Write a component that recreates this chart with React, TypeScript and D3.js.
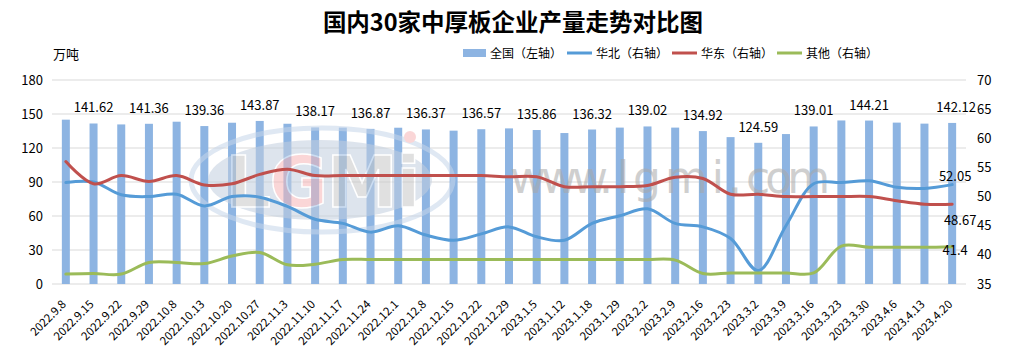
import * as d3 from "d3";

const categories = [
  "2022.9.8", "2022.9.15", "2022.9.22", "2022.9.29", "2022.10.8", "2022.10.13", "2022.10.20",
  "2022.10.27", "2022.11.3", "2022.11.10", "2022.11.17", "2022.11.24", "2022.12.1", "2022.12.8",
  "2022.12.15", "2022.12.22", "2022.12.29", "2023.1.5", "2023.1.12", "2023.1.18", "2023.1.29",
  "2023.2.2", "2023.2.9", "2023.2.16", "2023.2.23", "2023.3.2", "2023.3.9", "2023.3.16",
  "2023.3.23", "2023.3.30", "2023.4.6", "2023.4.13", "2023.4.20",
];

// 全国（左轴）
const national = [
  145.0, 141.62, 140.8, 141.36, 143.2, 139.36, 142.3, 143.87, 141.4, 138.17, 138.0, 136.87,
  137.9, 136.37, 135.3, 136.57, 137.3, 135.86, 133.2, 136.32, 138.0, 139.02, 138.0, 134.92,
  129.6, 124.59, 132.3, 139.01, 144.3, 144.21, 142.4, 141.5, 142.12,
];

// 华北（右轴）
const north = [
  52.4, 52.5, 50.3, 50.0, 50.4, 48.4, 50.0, 49.9, 48.3, 46.1, 45.4, 43.9, 45.0, 43.4, 42.5,
  43.6, 44.8, 43.1, 42.5, 45.4, 46.7, 47.9, 45.4, 44.8, 42.8, 37.3, 45.0, 52.2, 52.4, 52.7,
  51.6, 51.4, 52.05,
];

// 华东（右轴）
const east = [
  56.0, 52.2, 53.6, 52.6, 53.6, 52.0, 52.2, 53.8, 54.7, 53.6, 53.6, 53.6, 53.6, 53.6, 53.6,
  53.6, 53.4, 53.4, 51.7, 51.7, 51.7, 51.9, 53.3, 53.1, 50.4, 50.4, 50.0, 50.0, 50.0, 50.0,
  49.3, 48.7, 48.67,
];

// 其他（右轴）
const others = [
  36.7, 36.8, 36.7, 38.7, 38.7, 38.5, 39.8, 40.4, 38.3, 38.4, 39.2, 39.2, 39.2, 39.2, 39.2,
  39.2, 39.2, 39.2, 39.2, 39.2, 39.2, 39.2, 39.1, 36.8, 36.9, 36.9, 36.9, 36.9, 41.5, 41.3,
  41.3, 41.3, 41.4,
];

const leftTicks = [0, 30, 60, 90, 120, 150, 180];
const rightTicks = [35, 40, 45, 50, 55, 60, 65, 70];

const W = 1026, H = 362;
const plotL = 52, plotR = 966, plotT = 80, plotB = 284;

const C_BAR = "#8db4e2";
const C_NORTH = "#559bd7";
const C_EAST = "#c0504d";
const C_OTHER = "#9bbb59";
const FONT = "'Noto Sans CJK SC', 'Noto Sans', sans-serif";

export default function App() {
  const x = d3.scaleBand<string>().domain(categories).range([plotL, plotR]).padding(0);
  const step = x.step();
  const cx = (i: number) => (x(categories[i]) as number) + step / 2;
  const yL = d3.scaleLinear().domain([0, 180]).range([plotB, plotT]);
  const yR = d3.scaleLinear().domain([35, 70]).range([plotB, plotT]);
  const barW = 8;

  const lineGen = d3.line<number>()
    .x((_, i) => cx(i))
    .y(d => yR(d))
    .curve(d3.curveCatmullRom.alpha(0.5));

  const series = [
    { name: "华北（右轴）", data: north, color: C_NORTH },
    { name: "华东（右轴）", data: east, color: C_EAST },
    { name: "其他（右轴）", data: others, color: C_OTHER },
  ];

  const last = categories.length - 1;

  return (
    <svg width={W} height={H} style={{ position: "absolute", left: 0, top: 0, background: "#fff" }}
      fontFamily={FONT}>
      {/* title */}
      <text x={513} y={31} textAnchor="middle" fontSize={23.5} fontWeight="bold" fill="#000">
        国内30家中厚板企业产量走势对比图
      </text>

      {/* unit */}
      <text x={53} y={59} fontSize={13} fill="#000">万吨</text>

      {/* legend */}
      <g fontSize={12} fill="#000">
        <rect x={463} y={49} width={23} height={8} fill={C_BAR} />
        <text x={490} y={57.5}>全国（左轴）</text>
        {series.map((s, k) => (
          <g key={s.name}>
            <line x1={567 + k * 105} x2={592 + k * 105} y1={53} y2={53} stroke={s.color} strokeWidth={3} />
            <text x={596 + k * 105} y={57.5}>{s.name}</text>
          </g>
        ))}
      </g>

      {/* grid */}
      {leftTicks.map(t => (
        <line key={t} x1={plotL} x2={plotR} y1={yL(t)} y2={yL(t)} stroke="#d9d9d9" strokeWidth={1} />
      ))}

      {/* left axis labels */}
      <g fontSize={13} fill="#000" textAnchor="end">
        {leftTicks.map(t => (
          <text key={t} x={43} y={yL(t) + 4.5}>{t}</text>
        ))}
      </g>

      {/* right axis labels */}
      <g fontSize={13} fill="#000" textAnchor="start">
        {rightTicks.map(t => (
          <text key={t} x={977} y={yR(t) + 4.5}>{t}</text>
        ))}
      </g>

      {/* bars */}
      {national.map((v, i) => (
        <rect key={i} x={cx(i) - barW / 2} y={yL(v)} width={barW} height={plotB - yL(v)} fill={C_BAR} />
      ))}

      {/* watermark */}
      <g opacity={0.55} pointerEvents="none">
        <ellipse cx={322} cy={180} rx={131} ry={52} fill="none" stroke="#c6d6ea" strokeWidth={5} />
        <ellipse cx={320} cy={180} rx={112} ry={40} fill="#c3cfdf" />
        <text x={322} y={207} textAnchor="middle" fontSize={72} fontWeight="bold"
          fontFamily="'DejaVu Sans', sans-serif" fill="#c8c8c8" stroke="#fff" strokeWidth={1.5}
          letterSpacing={-2}>
          L<tspan fill="#f6b6b8">G</tspan>Mi
        </text>
        <circle cx={410} cy={137} r={6} fill="#f6b6b8" />
        <text x={510} y={193} fontSize={44} fill="#a9a9a9" fontFamily="'DejaVu Sans', sans-serif"
          textLength={320} lengthAdjust="spacing">
          www. l g m i . com
        </text>
      </g>

      {/* lines */}
      {series.map(s => (
        <path key={s.name} d={lineGen(s.data) ?? ""} fill="none" stroke={s.color} strokeWidth={3}
          strokeLinejoin="round" strokeLinecap="round" />
      ))}

      {/* bar data labels */}
      <g fontSize={13} fill="#000" textAnchor="middle">
        {national.map((v, i) =>
          (i % 2 === 1 && i < 31) || i === last ? (
            <text key={i} x={cx(i) + (i === last ? 4 : 0)} y={yL(v) - 11}>{v.toFixed(2)}</text>
          ) : null
        )}
      </g>

      {/* line end labels */}
      <g fontSize={13} fill="#000" textAnchor="middle">
        <text x={cx(last) + 3} y={yR(north[last]) - 4}>{north[last]}</text>
        <text x={cx(last) + 8} y={yR(east[last]) + 21}>{east[last]}</text>
        <text x={cx(last) + 3} y={yR(others[last]) + 8}>{others[last]}</text>
      </g>

      {/* x axis labels */}
      <g fontSize={11.5} fill="#000" textAnchor="end">
        {categories.map((c, i) => (
          <text key={c} transform={`translate(${cx(i) + 1},${305}) rotate(-45)`}>{c}</text>
        ))}
      </g>
    </svg>
  );
}
